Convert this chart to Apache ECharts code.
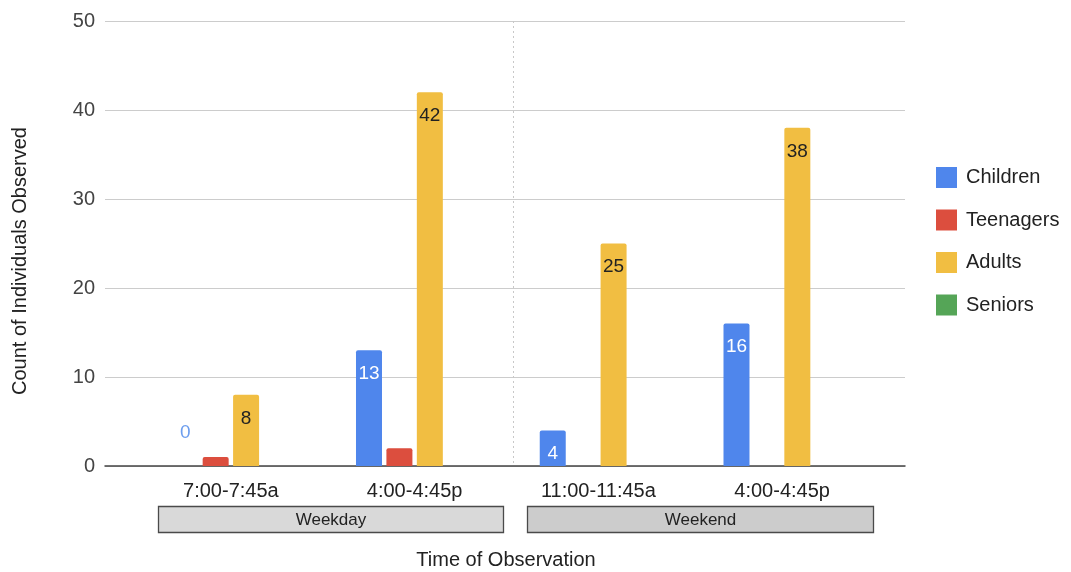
<!DOCTYPE html>
<html>
<head>
<meta charset="utf-8">
<style>
  html, body { margin: 0; padding: 0; background: #fff; }
  #chart { width: 1071px; height: 572px; }
</style>
<script src="https://cdn.jsdelivr.net/npm/echarts@6/dist/echarts.min.js"></script>
</head>
<body>
<div id="chart"></div>
<script>
// Observation time slots and the day groups they belong to
const timeSlots = ['7:00-7:45a', '4:00-4:45p', '11:00-11:45a', '4:00-4:45p'];
const dayGroups = ['Weekday', 'Weekend'];

// Counts per age group for each time slot
const children  = [0, 13, 4, 16];
const teenagers = [1, 2, 0, 0];
const adults    = [8, 42, 25, 38];
const seniors   = [0, 0, 0, 0];

const yTicks = [0, 10, 20, 30, 40, 50];

const FONT = '"Liberation Sans", Arial, sans-serif';
const COLORS = {
  children: '#4f86ec',
  teenagers: '#dc4e3e',
  adults: '#f1be42',
  seniors: '#55a557'
};

const chart = echarts.init(document.getElementById('chart'), null, { renderer: 'canvas' });

const BAR_W = 26;
const valueLabelBase = { fontFamily: FONT, fontSize: 19 };

// zero values get their label lifted above the baseline in a light blue
const childData = children.map(v => v === 0
  ? { value: v, label: { position: 'top', distance: 24, color: '#6d9eee' } }
  : v);

const option = {
  animation: false,
  color: [COLORS.children, COLORS.teenagers, COLORS.adults, COLORS.seniors],
  textStyle: { fontFamily: FONT },
  grid: [
    // gridline frame
    { left: 105, right: 166, top: 21, bottom: 106 },
    // bar area (inset within the frame)
    { left: 139, right: 197, top: 21, bottom: 106 }
  ],
  legend: {
    orient: 'vertical',
    left: 931,
    top: 162,
    itemWidth: 21,
    itemHeight: 21,
    itemGap: 21.5,
    icon: 'rect',
    textStyle: { fontFamily: FONT, fontSize: 20, color: '#222', padding: [0, 0, 0, 4] },
    data: ['Children', 'Teenagers', 'Adults', 'Seniors']
  },
  xAxis: [
    {
      gridIndex: 0,
      type: 'value',
      min: 0, max: 1,
      axisLabel: { show: false },
      axisTick: { show: false },
      splitLine: { show: false },
      axisLine: { show: true, onZero: false, lineStyle: { color: '#444', width: 1.5 } }
    },
    {
      gridIndex: 1,
      type: 'category',
      data: timeSlots,
      axisLine: { show: false },
      axisTick: { show: false },
      axisLabel: { fontFamily: FONT, fontSize: 20, color: '#222', margin: 15 }
    }
  ],
  yAxis: [
    {
      gridIndex: 0,
      type: 'value',
      min: yTicks[0],
      max: yTicks[yTicks.length - 1],
      interval: yTicks[1] - yTicks[0],
      axisLine: { show: false },
      axisTick: { show: false },
      axisLabel: { fontFamily: FONT, fontSize: 20, color: '#444', margin: 10 },
      splitLine: { lineStyle: { color: '#cccccc', width: 1 } }
    },
    {
      gridIndex: 1,
      type: 'value',
      min: yTicks[0],
      max: yTicks[yTicks.length - 1],
      show: false,
      splitLine: { show: false }
    }
  ],
  series: [
    {
      name: 'Children', type: 'bar', xAxisIndex: 1, yAxisIndex: 1,
      barWidth: BAR_W, barGap: '17%',
      itemStyle: { borderRadius: [2, 2, 0, 0] },
      label: Object.assign({ show: true, position: 'insideTop', distance: 14, color: '#ffffff' }, valueLabelBase),
      data: childData
    },
    {
      name: 'Teenagers', type: 'bar', xAxisIndex: 1, yAxisIndex: 1,
      barWidth: BAR_W, barGap: '17%',
      itemStyle: { borderRadius: [2, 2, 0, 0] },
      data: teenagers
    },
    {
      name: 'Adults', type: 'bar', xAxisIndex: 1, yAxisIndex: 1,
      barWidth: BAR_W, barGap: '17%',
      itemStyle: { borderRadius: [2, 2, 0, 0] },
      label: Object.assign({ show: true, position: 'insideTop', distance: 14, color: '#222' }, valueLabelBase),
      data: adults
    },
    {
      name: 'Seniors', type: 'bar', xAxisIndex: 1, yAxisIndex: 1,
      barWidth: BAR_W, barGap: '17%',
      itemStyle: { borderRadius: [2, 2, 0, 0] },
      data: seniors
    }
  ],
  graphic: [
    // divider between weekday and weekend slots
    {
      type: 'line', z: 1,
      shape: { x1: 513.5, y1: 21, x2: 513.5, y2: 465 },
      style: { stroke: '#c8c8c8', lineWidth: 1, lineDash: [2, 3] }
    },
    // day group boxes
    {
      type: 'rect', z: 5,
      shape: { x: 158.5, y: 506.5, width: 345, height: 26 },
      style: { fill: '#d9d9d9', stroke: '#4a4a4a', lineWidth: 1.3 }
    },
    {
      type: 'text', z: 6, x: 331, y: 520,
      style: { text: dayGroups[0], fontFamily: FONT, fontSize: 17, fill: '#222', align: 'center', verticalAlign: 'middle' }
    },
    {
      type: 'rect', z: 5,
      shape: { x: 527.5, y: 506.5, width: 346, height: 26 },
      style: { fill: '#cccccc', stroke: '#4a4a4a', lineWidth: 1.3 }
    },
    {
      type: 'text', z: 6, x: 700.5, y: 520,
      style: { text: dayGroups[1], fontFamily: FONT, fontSize: 17, fill: '#222', align: 'center', verticalAlign: 'middle' }
    },
    // axis titles
    {
      type: 'text', z: 6, x: 506, y: 560,
      style: { text: 'Time of Observation', fontFamily: FONT, fontSize: 20, fill: '#222', align: 'center', verticalAlign: 'middle' }
    },
    {
      type: 'text', z: 6, x: 20, y: 261, rotation: Math.PI / 2,
      style: { text: 'Count of Individuals Observed', fontFamily: FONT, fontSize: 20, fill: '#222', align: 'center', verticalAlign: 'middle' }
    }
  ]
};

chart.setOption(option);
</script>
</body>
</html>
